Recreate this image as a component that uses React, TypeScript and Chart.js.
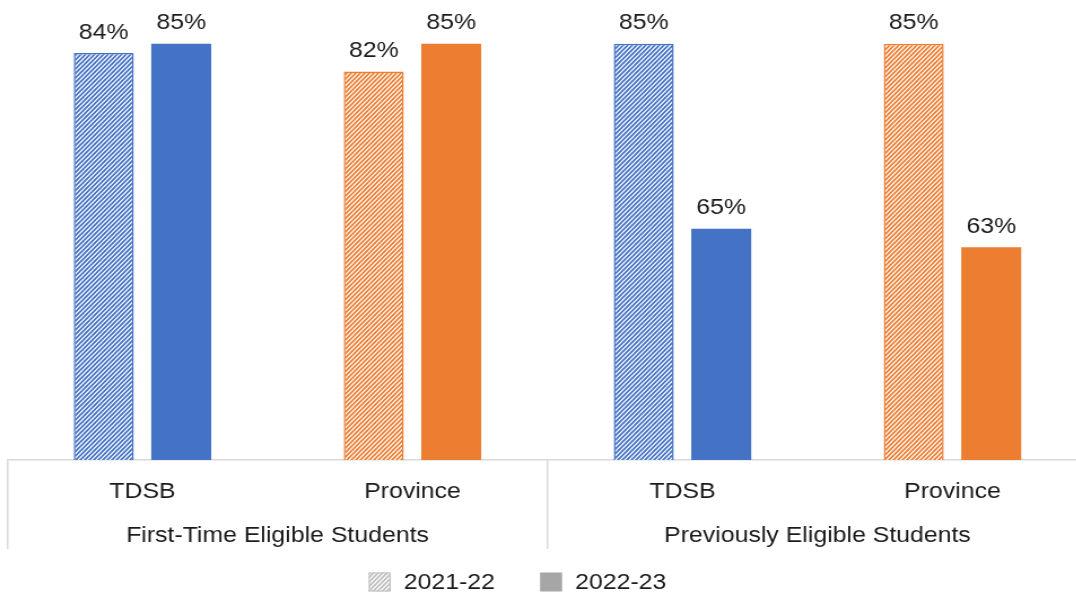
import React, { useEffect, useRef } from 'react';
import { Chart, registerables } from 'chart.js';

Chart.register(...registerables);

const categories = ['TDSB', 'Province', 'TDSB', 'Province'];
const groupLabels = ['First-Time Eligible Students', 'Previously Eligible Students'];
const seriesLabels = ['2021-22', '2022-23'];
const values2021_22 = [84, 82, 85, 85];
const values2022_23 = [85, 85, 65, 63];
const categoryColors = ['#4472C4', '#ED7D31', '#4472C4', '#ED7D31'];

const FONT = "'Liberation Sans', Arial, sans-serif";
const TEXT = '#1a1a1a';
const GRID = '#d9d9d9';
const INTERNAL_W = 974;
const DISPLAY_W = 1100;
const H = 594;

function makeHatch(color: string) {
  const w = 8;
  const h = 9;
  const c = document.createElement('canvas');
  c.width = w;
  c.height = h;
  const g = c.getContext('2d')!;
  g.fillStyle = '#ffffff';
  g.fillRect(0, 0, w, h);
  g.strokeStyle = color;
  g.lineWidth = 1.8;
  g.beginPath();
  for (const off of [-8, -4, 0, 4, 8]) {
    g.moveTo(off - 1, h + 9 / 8);
    g.lineTo(off + w + 1, -9 / 8);
  }
  g.stroke();
  return g.createPattern(c, 'repeat')!;
}

const valueLabels = {
  id: 'valueLabels',
  afterDatasetsDraw(chart: any) {
    const ctx = chart.ctx;
    ctx.save();
    ctx.font = `22px ${FONT}`;
    ctx.fillStyle = TEXT;
    ctx.textAlign = 'center';
    ctx.textBaseline = 'alphabetic';
    chart.data.datasets.forEach((ds: any, di: number) => {
      chart.getDatasetMeta(di).data.forEach((el: any, i: number) => {
        ctx.fillText(`${ds.data[i]}%`, el.x, el.y - 14.5);
      });
    });
    ctx.restore();
  },
};

const bottomLegend = {
  id: 'bottomLegend',
  afterDraw(chart: any, _args: any, opts: any) {
    const ctx = chart.ctx;
    ctx.save();
    ctx.font = `22px ${FONT}`;
    const box = 19.5;
    const gap = 11.5;
    const spacing = 40;
    const items = chart.data.datasets.map((ds: any, i: number) => ({
      text: ds.label,
      fill: opts.fills[i],
      stroke: opts.strokes[i],
    }));
    const widths = items.map((it: any) => box + gap + ctx.measureText(it.text).width);
    const total = widths.reduce((a: number, b: number) => a + b, 0) + spacing * (items.length - 1);
    let x = opts.centerX - total / 2;
    const y = opts.centerY;
    items.forEach((it: any, i: number) => {
      ctx.fillStyle = it.fill;
      ctx.fillRect(x, y - 9.5, box, 19);
      if (it.stroke) {
        ctx.strokeStyle = it.stroke;
        ctx.lineWidth = 1;
        ctx.strokeRect(x + 0.5, y - 9, box - 1, 18);
      }
      ctx.fillStyle = TEXT;
      ctx.textAlign = 'left';
      ctx.textBaseline = 'middle';
      ctx.fillText(it.text, x + box + gap, y + 1);
      x += widths[i] + spacing;
    });
    ctx.restore();
  },
};

export default function App() {
  const ref = useRef<HTMLCanvasElement | null>(null);

  useEffect(() => {
    if (!ref.current) return;
    const hatches = categoryColors.map((c) => makeHatch(c));
    const grayHatch = makeHatch('#bfbfbf');
    const tickFont = { family: FONT, size: 22 };

    const chart = new Chart(ref.current, {
      type: 'bar',
      data: {
        labels: categories,
        datasets: [
          {
            label: seriesLabels[0],
            data: values2021_22,
            backgroundColor: hatches,
            borderColor: categoryColors,
            borderWidth: 1.5,
            categoryPercentage: 0.574,
            barPercentage: 0.774,
          },
          {
            label: seriesLabels[1],
            data: values2022_23,
            backgroundColor: categoryColors,
            borderWidth: 0,
            categoryPercentage: 0.574,
            barPercentage: 0.774,
          },
        ],
      },
      options: {
        responsive: false,
        maintainAspectRatio: false,
        animation: false,
        devicePixelRatio: 1,
        events: [],
        layout: { padding: { left: 6.64, right: 11.1, top: 6.75, bottom: 45 } },
        plugins: {
          legend: { display: false },
          tooltip: { enabled: false },
          bottomLegend: {
            centerX: 458.2,
            centerY: 582,
            fills: [grayHatch, '#a6a6a6'],
            strokes: ['#bfbfbf', null],
          },
        } as any,
        scales: {
          x: {
            type: 'category',
            offset: true,
            weight: 0,
            grid: {
              display: true,
              offset: true,
              drawOnChartArea: false,
              drawTicks: true,
              tickLength: 45,
              lineWidth: 1.5,
              color: (c: any) =>
                c.index !== undefined && c.index % 2 === 0 ? GRID : 'rgba(0,0,0,0)',
            },
            border: { display: true, color: GRID, width: 1.5 },
            ticks: {
              font: tickFont,
              color: TEXT,
              padding: -26.2,
              autoSkip: false,
              maxRotation: 0,
            },
            afterFit: (s: any) => {
              s.height = 45;
            },
          },
          x2: {
            type: 'category',
            labels: groupLabels,
            offset: true,
            position: 'bottom',
            weight: 1,
            grid: {
              display: true,
              offset: true,
              drawOnChartArea: false,
              drawTicks: true,
              tickLength: 44,
              lineWidth: 1.5,
              color: GRID,
            },
            border: { display: false },
            ticks: {
              font: tickFont,
              color: TEXT,
              padding: -26.2,
              autoSkip: false,
              maxRotation: 0,
            },
            afterFit: (s: any) => {
              s.height = 44;
            },
          },
          y: { display: false, min: 40, max: 89 },
        } as any,
      },
      plugins: [valueLabels, bottomLegend],
    });
    return () => chart.destroy();
  }, []);

  return (
    <div
      style={{
        position: 'fixed',
        left: 0,
        top: 0,
        width: 1076,
        height: H,
        overflow: 'hidden',
        background: '#ffffff',
      }}
    >
      <canvas
        ref={ref}
        width={INTERNAL_W}
        height={H}
        style={{ display: 'block', width: `${DISPLAY_W}px`, height: `${H}px` }}
      />
    </div>
  );
}
